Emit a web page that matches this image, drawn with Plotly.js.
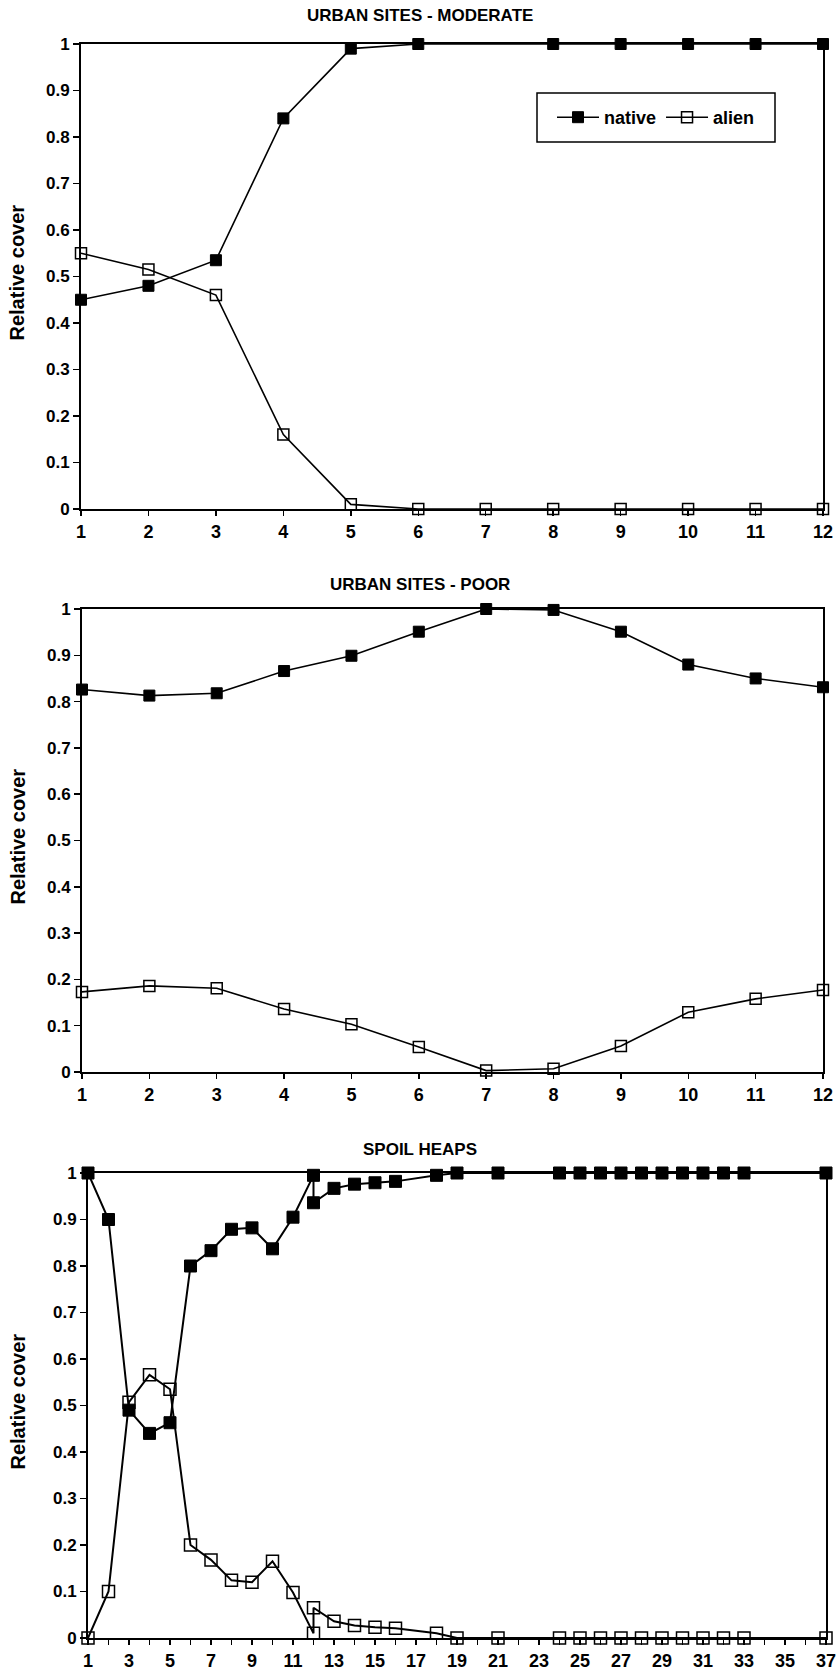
<!DOCTYPE html>
<html>
<head>
<meta charset="utf-8">
<script src="https://cdn.plot.ly/plotly-3.0.1.min.js"></script>
<style>
  html, body { margin: 0; padding: 0; background: #ffffff; }
  #chart { width: 839px; height: 1675px; }
</style>
</head>
<body>
<div id="chart"></div>
<script>
// ---------- DATA ----------
const panelTitles = ["URBAN SITES - MODERATE", "URBAN SITES - POOR", "SPOIL HEAPS"];
const seriesNames = ["native", "alien"];
const yAxisLabel = "Relative cover";

// Panel 1: urban sites - moderate
const modX = [1, 2, 3, 4, 5, 6, 7, 8, 9, 10, 11, 12];
const modNative = [0.45, 0.48, 0.535, 0.84, 0.99, 1.0, null, 1.0, 1.0, 1.0, 1.0, 1.0];
const modAlien = [0.55, 0.515, 0.46, 0.16, 0.01, 0.0, 0.0, 0.0, 0.0, 0.0, 0.0, 0.0];

// Panel 2: urban sites - poor
const poorX = [1, 2, 3, 4, 5, 6, 7, 8, 9, 10, 11, 12];
const poorNative = [0.826, 0.813, 0.818, 0.866, 0.899, 0.951, 1.0, 0.998, 0.951, 0.880, 0.850, 0.831];
const poorAlien = [0.173, 0.186, 0.181, 0.136, 0.103, 0.054, 0.003, 0.007, 0.056, 0.129, 0.158, 0.177];

// Panel 3: spoil heaps (site 12 has two recorded points)
const spoilX = [1, 2, 3, 4, 5, 6, 7, 8, 9, 10, 11, 12, 12, 13, 14, 15, 16, 18, 19, 21,
                24, 25, 26, 27, 28, 29, 30, 31, 32, 33, 37];
const spoilNative = [1.0, 0.90, 0.49, 0.44, 0.463, 0.80, 0.833, 0.879, 0.882, 0.837, 0.905, 0.995, 0.936,
                     0.967, 0.976, 0.979, 0.982, 0.995, 1.0, 1.0,
                     1.0, 1.0, 1.0, 1.0, 1.0, 1.0, 1.0, 1.0, 1.0, 1.0, 1.0];
const spoilAlien = [0.0, 0.10, 0.507, 0.566, 0.535, 0.20, 0.168, 0.124, 0.12, 0.165, 0.098, 0.01, 0.065,
                    0.036, 0.027, 0.023, 0.021, 0.01, 0.0, 0.0,
                    0.0, 0.0, 0.0, 0.0, 0.0, 0.0, 0.0, 0.0, 0.0, 0.0, 0.0];

// Tick labels
const urbanXTicks = [1, 2, 3, 4, 5, 6, 7, 8, 9, 10, 11, 12];
const spoilXTicks = [1, 3, 5, 7, 9, 11, 13, 15, 17, 19, 21, 23, 25, 27, 29, 31, 33, 35, 37];
const yTicks = [0, 0.1, 0.2, 0.3, 0.4, 0.5, 0.6, 0.7, 0.8, 0.9, 1];
const yTickText = ["0", "0.1", "0.2", "0.3", "0.4", "0.5", "0.6", "0.7", "0.8", "0.9", "1"];

// ---------- LAYOUT HELPERS ----------
const W = 839, H = 1675;
const px = v => v / W;
const py = v => 1 - v / H;

const FONT = "Liberation Sans, Arial, Helvetica, sans-serif";
const NARROW = "Liberation Sans Narrow, Arial Narrow, Liberation Sans, Arial, sans-serif";

// pixel boxes [left, right, top, bottom]
const boxes = [
  [81, 823, 44, 509],
  [82, 823, 609, 1072],
  [88, 826, 1173, 1638]
];
const titleY = [16, 585, 1149];
const fonts = [FONT, NARROW, FONT];
const legendBox = [537, 775, 93, 142];

function nativeTrace(x, y, ax, size, lw, show) {
  return {
    x: x, y: y, xaxis: ax[0], yaxis: ax[1], name: seriesNames[0],
    type: "scatter", mode: "lines+markers", connectgaps: true, cliponaxis: false,
    showlegend: show,
    line: { color: "#000", width: lw },
    marker: { symbol: "square", size: size, color: "#000", line: { color: "#000", width: 1 } }
  };
}
function alienTrace(x, y, ax, size, lw, show) {
  return {
    x: x, y: y, xaxis: ax[0], yaxis: ax[1], name: seriesNames[1],
    type: "scatter", mode: "lines+markers", connectgaps: true, cliponaxis: false,
    showlegend: show,
    line: { color: "#000", width: lw },
    marker: { symbol: "square-open", size: size, color: "#000", line: { color: "#000", width: 1.5 } }
  };
}

const data = [
  nativeTrace(modX, modNative, ["x", "y"], 11, 1.6, true),
  alienTrace(modX, modAlien, ["x", "y"], 11, 1.6, true),
  nativeTrace(poorX, poorNative, ["x2", "y2"], 11, 1.6, false),
  alienTrace(poorX, poorAlien, ["x2", "y2"], 11, 1.6, false),
  nativeTrace(spoilX, spoilNative, ["x3", "y3"], 12, 2, false),
  alienTrace(spoilX, spoilAlien, ["x3", "y3"], 12, 2, false)
];

function xAxis(i, range, tickvals, minor) {
  const b = boxes[i];
  const ax = {
    domain: [px(b[0]), px(b[1])],
    anchor: i === 0 ? "y" : "y" + (i + 1),
    range: range,
    tickmode: "array",
    tickvals: tickvals,
    ticktext: tickvals.map(String),
    ticks: "outside", ticklen: 5, tickwidth: 1.5, tickcolor: "#000",
    showline: true, linecolor: "#000", linewidth: 2, mirror: true,
    showgrid: false, zeroline: false,
    tickfont: { family: fonts[i], size: 18, color: "#000", weight: "bold" },
    fixedrange: true
  };
  if (minor) {
    ax.minor = { tickmode: "linear", tick0: 1, dtick: 1, ticks: "outside", ticklen: 5, tickwidth: 1.5, tickcolor: "#000", showgrid: false };
  }
  return ax;
}
function yAxis(i) {
  const b = boxes[i];
  return {
    domain: [py(b[3]), py(b[2])],
    anchor: i === 0 ? "x" : "x" + (i + 1),
    range: [0, 1],
    tickmode: "array",
    tickvals: yTicks,
    ticktext: yTickText,
    ticks: "outside", ticklen: 6, tickwidth: 1.5, tickcolor: "#000",
    showline: true, linecolor: "#000", linewidth: 2, mirror: true,
    showgrid: false, zeroline: false,
    tickfont: { family: fonts[i], size: 17, color: "#000", weight: "bold" },
    fixedrange: true
  };
}

const annotations = [];
for (let i = 0; i < 3; i++) {
  const b = boxes[i];
  annotations.push({
    xref: "paper", yref: "paper", x: 0.5, y: py(titleY[i]),
    xanchor: "center", yanchor: "middle", showarrow: false,
    text: panelTitles[i],
    font: { family: fonts[i], size: 17, color: "#000", weight: "bold" }
  });
  annotations.push({
    xref: "paper", yref: "paper", x: px(17), y: py((b[2] + b[3]) / 2 - 4),
    xanchor: "center", yanchor: "middle", showarrow: false, textangle: -90,
    text: yAxisLabel,
    font: { family: FONT, size: 20, color: "#000", weight: "bold" }
  });
}

const layout = {
  width: W, height: H,
  margin: { l: 0, r: 0, t: 0, b: 0 },
  paper_bgcolor: "#fff", plot_bgcolor: "#fff",
  showlegend: true,
  legend: {
    orientation: "h",
    x: px((legendBox[0] + legendBox[1]) / 2), y: py((legendBox[2] + legendBox[3]) / 2),
    xanchor: "center", yanchor: "middle",
    bgcolor: "rgba(0,0,0,0)", borderwidth: 0,
    font: { family: FONT, size: 18, color: "#000", weight: "bold" },
    itemwidth: 42
  },
  shapes: [{
    type: "rect", xref: "paper", yref: "paper",
    x0: px(legendBox[0]), x1: px(legendBox[1]),
    y0: py(legendBox[3]), y1: py(legendBox[2]),
    line: { color: "#000", width: 1.5 }, fillcolor: "#fff", layer: "below"
  }],
  xaxis: xAxis(0, [1, 12], urbanXTicks, false),
  yaxis: yAxis(0),
  xaxis2: xAxis(1, [1, 12], urbanXTicks, false),
  yaxis2: yAxis(1),
  xaxis3: xAxis(2, [1, 37], spoilXTicks, true),
  yaxis3: yAxis(2),
  annotations: annotations
};

Plotly.newPlot("chart", data, layout, { displayModeBar: false, staticPlot: true });
</script>
</body>
</html>
